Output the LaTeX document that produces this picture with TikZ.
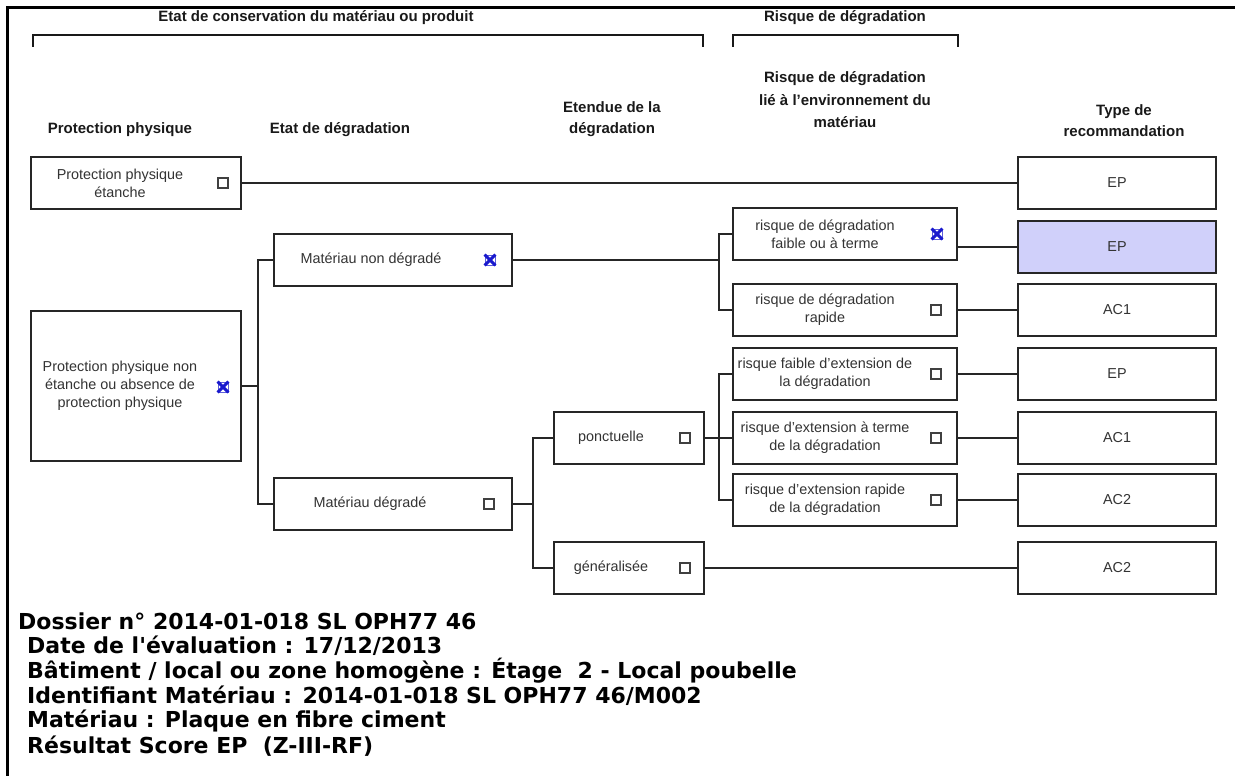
\documentclass[tikz,border=0pt]{standalone}
\usepackage{fontspec}
\setmainfont{Liberation Sans}
\newfontfamily\botfont{DejaVu Sans}
\definecolor{lav}{RGB}{208,208,250}
\definecolor{xblue}{RGB}{25,25,205}
\begin{document}
\begin{tikzpicture}[x=1pt,y=-1pt,
  box/.style={draw=black!85, line width=2pt, fill=white, inner sep=0pt},
  lbl/.style={font=\fontsize{14.4}{18}\selectfont, text=black!80, align=center, inner sep=0pt},
  hdr/.style={font=\bfseries\fontsize{15}{21.5}\selectfont, text=black!90, align=center, inner sep=0pt},
  cbox/.style={draw=black!75, line width=1.2pt, minimum size=10pt, inner sep=0pt},
  xbox/.style={draw=xblue!70, line width=0.8pt, minimum size=10pt, inner sep=0pt},
  xmark/.style={draw=xblue, line width=3pt},
  conn/.style={draw=black!85, line width=2pt},
  brk/.style={draw=black!90, line width=2pt},
  tbox/.style={box, minimum width=198pt, minimum height=52pt, font=\fontsize{14.4}{18}\selectfont, text=black!80},
  rbox/.style={box, minimum width=224pt, minimum height=52pt},
  bot/.style={font=\botfont\bfseries\fontsize{22}{24}\selectfont, inner sep=0pt, anchor=west}]
\useasboundingbox (0,0) rectangle (1235,776);
% frame
\draw[line width=3pt] (7,776) -- (7,8) -- (1235,8);

% top headers and brackets
\node[hdr] (h1) at (316,18) {Etat de conservation du matériau ou produit};
\node[hdr] (h2) at (845,18) {Risque de dégradation};
\coordinate (b1a) at (33,47); \coordinate (b1b) at (703,47);
\coordinate (b2a) at (733,47); \coordinate (b2b) at (958,47);
\draw[brk] (b1a) -- ++(0,-12) -| (b1b);
\draw[brk] (b2a) -- ++(0,-12) -| (b2b);

% column headers
\node[hdr, anchor=south] (c1) at (120,137) {Protection physique};
\node[hdr, anchor=south] (c2) at (340,137) {Etat de dégradation};
\node[hdr, anchor=south] (c3) at (612,137) {Etendue de la\\dégradation};
\node[hdr, font=\bfseries\fontsize{15}{22.5}\selectfont] (c4) at (845,100) {Risque de dégradation\\lié à l'environnement du\\matériau};
\node[hdr, anchor=south] (c5) at (1124,137) {Type de\\recommandation};

% column 1
\node[box, minimum width=210pt, minimum height=52pt] (B1) at (136,183) {};
\node[lbl] (B1t) at (120,183) {Protection physique\\étanche};
\node[cbox] (B1c) at (223,183) {};

\node[box, minimum width=210pt, minimum height=150pt] (B2) at (136,386) {};
\node[lbl] (B2t) at (120,386) {Protection physique non\\étanche ou absence de\\protection physique};
\node[xbox] (B2c) at (223,387) {};
\draw[xmark] (B2c.south west) -- (B2c.north east) (B2c.north west) -- (B2c.south east);

% column 2
\node[box, minimum width=238pt, minimum height=52pt] (B3) at (393,260) {};
\node[lbl] (B3t) at (371,260) {Matériau non dégradé};
\node[xbox] (B3c) at (490,260) {};
\draw[xmark] (B3c.south west) -- (B3c.north east) (B3c.north west) -- (B3c.south east);

\node[box, minimum width=238pt, minimum height=52pt] (B4) at (393,504) {};
\node[lbl] (B4t) at (370,504) {Matériau dégradé};
\node[cbox] (B4c) at (489,504) {};

% column 3
\node[box, minimum width=150pt, minimum height=52pt] (B5) at (629,438) {};
\node[lbl] (B5t) at (611,438) {ponctuelle};
\node[cbox] (B5c) at (685,438) {};

\node[box, minimum width=150pt, minimum height=52pt] (B6) at (629,568) {};
\node[lbl] (B6t) at (611,568) {généralisée};
\node[cbox] (B6c) at (685,568) {};

% column 4
\node[rbox] (R1) at (845,234) {};
\node[lbl] (R1t) at (825,234) {risque de dégradation\\faible ou à terme};
\node[xbox] (R1c) at (937,234) {};
\draw[xmark] (R1c.south west) -- (R1c.north east) (R1c.north west) -- (R1c.south east);

\node[rbox] (R2) at (845,310) {};
\node[lbl] (R2t) at (825,310) {risque de dégradation\\rapide};
\node[cbox] (R2c) at (936,310) {};

\node[rbox] (R3) at (845,374) {};
\node[lbl] (R3t) at (825,374) {risque faible d'extension de\\la dégradation};
\node[cbox] (R3c) at (936,374) {};

\node[rbox] (R4) at (845,438) {};
\node[lbl] (R4t) at (825,438) {risque d'extension à terme\\de la dégradation};
\node[cbox] (R4c) at (936,438) {};

\node[rbox] (R5) at (845,500) {};
\node[lbl] (R5t) at (825,500) {risque d'extension rapide\\de la dégradation};
\node[cbox] (R5c) at (936,500) {};

% column 5
\node[tbox] (T1) at (1117,183) {EP};
\node[tbox, fill=lav] (T2) at (1117,247) {EP};
\node[tbox] (T3) at (1117,310) {AC1};
\node[tbox] (T4) at (1117,374) {EP};
\node[tbox] (T5) at (1117,438) {AC1};
\node[tbox] (T6) at (1117,500) {AC2};
\node[tbox] (T7) at (1117,568) {AC2};

% connectors
\coordinate (j1) at (258,386);
\coordinate (j2) at (719,260);
\coordinate (j3) at (533,504);
\coordinate (j4) at (719,438);
\draw[conn] (B1.east) -- (T1.west);
\draw[conn] (B2.east) -- (j1);
\draw[conn] (B3.west) -| (j1) |- (B4.west);
\draw[conn] (B3.east) -- (j2);
\draw[conn] (R1.west) -| (j2) |- (R2.west);
\draw[conn] (B4.east) -- (j3);
\draw[conn] (B5.west) -| (j3) |- (B6.west);
\draw[conn] (B5.east) -- (j4);
\draw[conn] (R3.west) -| (j4) |- (R5.west);
\draw[conn] (j4) -- (R4.west);
\draw[conn] (B6.east) -- (T7.west);
\draw[conn] (R1.east |- T2.west) -- (T2.west);
\draw[conn] (R2.east) -- (T3.west);
\draw[conn] (R3.east) -- (T4.west);
\draw[conn] (R4.east) -- (T5.west);
\draw[conn] (R5.east) -- (T6.west);

% bottom text
\node[bot] (d1) at (18,621) {Dossier n° 2014-01-018 SL OPH77 46};
\node[bot] (d2) at (27,646) {Date de l'évaluation : 17/12/2013};
\node[bot] (d3) at (27,671) {Bâtiment / local ou zone homogène : Étage\ \ 2 - Local poubelle};
\node[bot] (d4) at (27,696) {Identifiant Matériau : 2014-01-018 SL OPH77 46/M002};
\node[bot] (d5) at (27,721) {Matériau : Plaque en fibre ciment};
\node[bot] (d6) at (27,746) {Résultat Score EP\ \ (Z-III-RF)};
\end{tikzpicture}
\end{document}
